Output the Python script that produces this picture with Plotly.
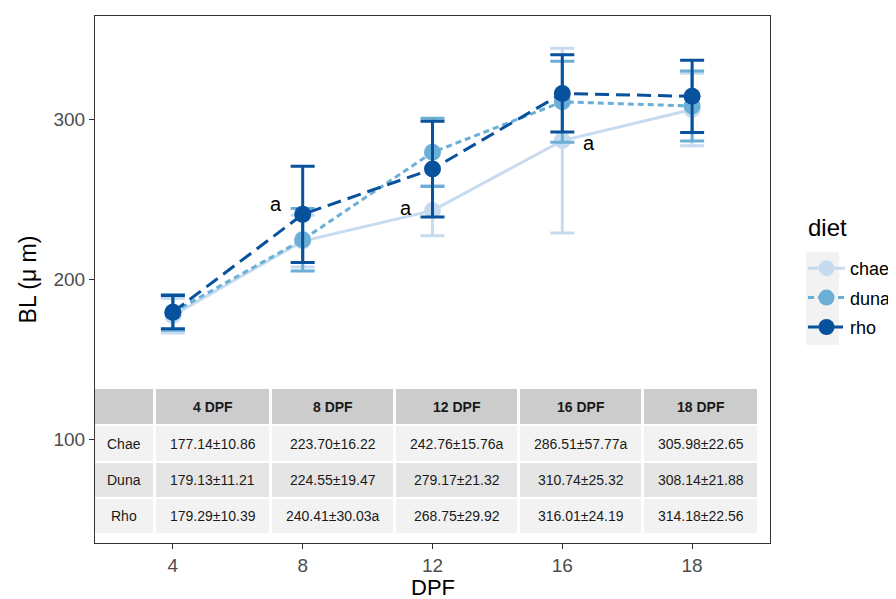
import plotly.graph_objects as go

# ---------------- data ----------------
dpf = ["4", "8", "12", "16", "18"]
diet_keys = ["chae", "duna", "rho"]
diet_rows = ["Chae", "Duna", "Rho"]
chae_mean = [177.14, 223.70, 242.76, 286.51, 305.98]
chae_sd = [10.86, 16.22, 15.76, 57.77, 22.65]
duna_mean = [179.13, 224.55, 279.17, 310.74, 308.14]
duna_sd = [11.21, 19.47, 21.32, 25.32, 21.88]
rho_mean = [179.29, 240.41, 268.75, 316.01, 314.18]
rho_sd = [10.39, 30.03, 29.92, 24.19, 22.56]
chae_sig = ["", "", "a", "a", ""]
duna_sig = ["", "", "", "", ""]
rho_sig = ["", "a", "", "", ""]
y_ticks = [100, 200, 300]

means = [chae_mean, duna_mean, rho_mean]
sds = [chae_sd, duna_sd, rho_sd]
sigs = [chae_sig, duna_sig, rho_sig]

# ---------------- style ----------------
W, H = 896, 599
OFF = 8                      # page body margin offset
PANEL = (95, 16, 770, 543)   # target panel in screen pixels (l, t, r, b)
L = PANEL[0] - OFF
T = PANEL[1] - OFF
R = W - (PANEL[2] - OFF)
B = H - (PANEL[3] - OFF)
PW, PH = W - L - R, H - T - B
colors = ["#c6dbef", "#6baed6", "#08519c"]
dashes = ["solid", "6px,4px", "14px,7px"]
FONT = "Liberation Sans, Arial, sans-serif"

def px(x):
    return (x - OFF - L) / PW

def py(y):
    return (T + PH - (y - OFF)) / PH

fig = go.Figure()
for key, m, s, c, d in zip(diet_keys, means, sds, colors, dashes):
    fig.add_trace(go.Scatter(
        x=list(range(len(dpf))), y=m, name=key, legendgroup=key,
        mode="lines+markers",
        line=dict(color=c, width=3, dash=d),
        marker=dict(color=c, size=17),
        error_y=dict(type="data", array=s, visible=True, color=c,
                     thickness=3, width=12),
    ))

annotations = []
# significance letters
sig_shift = {("rho", 1): (-27, 10), ("chae", 2): (-27, 3), ("chae", 3): (27, -2)}
for key, m, sg in zip(diet_keys, means, sigs):
    for i, lab in enumerate(sg):
        if lab:
            xs, ys = sig_shift.get((key, i), (-27, 0))
            annotations.append(dict(x=i, y=m[i], xref="x", yref="y", text=lab,
                                    showarrow=False, xshift=xs, yshift=ys,
                                    font=dict(size=20, color="black", family=FONT)))

# ---------------- table ----------------
shapes = []
col_edges = [(95, 153), (156, 269), (272, 393), (396, 517), (520, 641), (644, 757)]
row_edges = [(389, 424), (426, 461), (463, 497), (499, 533)]
row_fills = ["#cccccc", "#f2f2f2", "#e5e5e5", "#f2f2f2"]
header = [""] + [f"{d} DPF" for d in dpf]
body = []
for name, m, s, sg in zip(diet_rows, means, sds, sigs):
    body.append([name] + [f"{a:.2f}±{b:.2f}{g}" for a, b, g in zip(m, s, sg)])
table = [header] + body
for r, (y0, y1) in enumerate(row_edges):
    for cidx, (x0, x1) in enumerate(col_edges):
        shapes.append(dict(type="rect", xref="paper", yref="paper",
                           x0=px(x0), x1=px(x1), y0=py(y1), y1=py(y0),
                           fillcolor=row_fills[r], line=dict(width=0), layer="below"))
        txt = table[r][cidx]
        if txt:
            annotations.append(dict(
                x=px((x0 + x1) / 2), y=py((y0 + y1) / 2), xref="paper", yref="paper",
                text=f"<b>{txt}</b>" if r == 0 else txt, showarrow=False,
                xanchor="center", yanchor="middle",
                font=dict(size=14, color="#1a1a1a", family=FONT)))

# legend key background
shapes.append(dict(type="rect", xref="paper", yref="paper",
                   x0=px(806), x1=px(839), y0=py(345), y1=py(252),
                   fillcolor="#f2f2f2", line=dict(width=0), layer="below"))
# legend title
annotations.append(dict(x=px(806), y=py(228), xref="paper", yref="paper", text="diet",
                        showarrow=False, xanchor="left", yanchor="middle",
                        font=dict(size=24, color="black", family=FONT)))
# x axis title (kept inside the visible window)
annotations.append(dict(x=0.5, y=py(601), xref="paper", yref="paper", text="DPF",
                        showarrow=False, xanchor="center", yanchor="bottom", borderpad=0,
                        font=dict(size=22, color="black", family=FONT)))

fig.update_layout(
    width=W, height=H,
    margin=dict(l=L, r=R, t=T, b=B, pad=0, autoexpand=False),
    paper_bgcolor="white", plot_bgcolor="white",
    font=dict(family=FONT),
    showlegend=True,
    legend=dict(font=dict(size=18, color="black"),
                x=px(803), xanchor="left", y=py(250), yanchor="top",
                traceorder="grouped", tracegroupgap=3, itemwidth=37,
                bgcolor="rgba(0,0,0,0)", borderwidth=0),
    xaxis=dict(tickvals=list(range(len(dpf))), ticktext=dpf,
               range=[-0.6, len(dpf) - 0.4],
               showgrid=False, zeroline=False,
               showline=True, linecolor="#333333", linewidth=1, mirror=True,
               ticks="outside", ticklen=5, tickcolor="#333333", tickwidth=1,
               tickfont=dict(size=19, color="#4d4d4d")),
    yaxis=dict(range=[35, 364.4], tickvals=y_ticks,
               showgrid=False, zeroline=False,
               showline=True, linecolor="#333333", linewidth=1, mirror=True,
               ticks="outside", ticklen=5, tickcolor="#333333", tickwidth=1,
               tickfont=dict(size=19, color="#4d4d4d"),
               title=dict(text="BL (μ m)", font=dict(size=23, color="black"), standoff=10)),
    shapes=shapes,
    annotations=annotations,
)

fig.write_html("out.html")
